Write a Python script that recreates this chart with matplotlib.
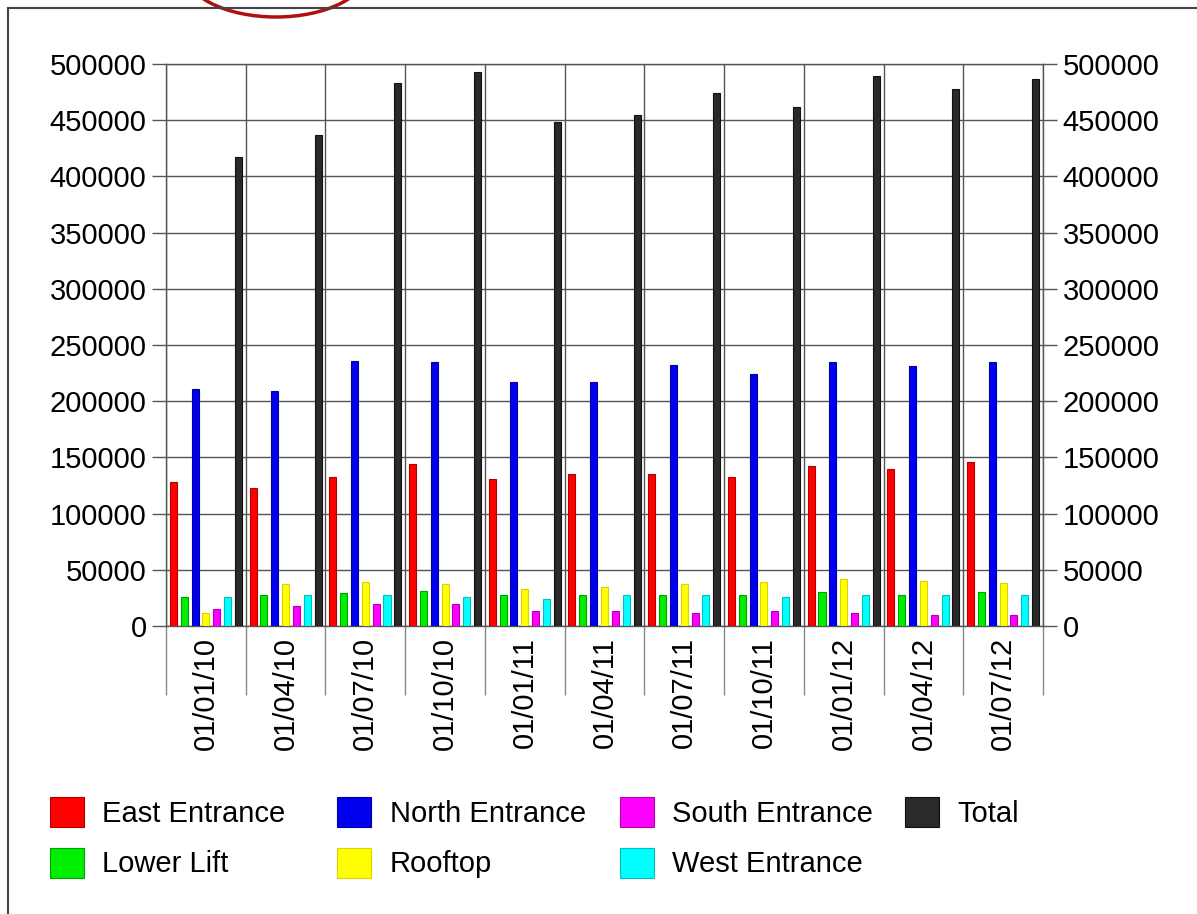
import matplotlib.pyplot as plt
from matplotlib.patches import Ellipse
from matplotlib.lines import Line2D
import numpy as np

plt.rcParams['font.family'] = ['Liberation Sans', 'DejaVu Sans']

dates = ['01/01/10', '01/04/10', '01/07/10', '01/10/10', '01/01/11', '01/04/11',
         '01/07/11', '01/10/11', '01/01/12', '01/04/12', '01/07/12']

east = [128000, 122500, 133000, 144000, 131000, 135000, 135000, 133000, 142000, 140000, 146000]
lower_lift = [26000, 28000, 29500, 31500, 28000, 28000, 28000, 28000, 30000, 28000, 30000]
north = [211000, 209500, 236000, 234500, 217000, 217000, 232000, 224000, 234500, 231000, 234500]
rooftop = [12000, 37000, 39000, 37000, 33000, 35000, 37000, 39000, 42000, 40000, 38500]
south = [15000, 18000, 19500, 19500, 13500, 13500, 12000, 13500, 12000, 10000, 10000]
west = [26000, 28000, 28000, 26000, 24000, 28000, 28000, 26000, 28000, 28000, 28000]
total = [417000, 437000, 483500, 492500, 448000, 455000, 474500, 462000, 489000, 478000, 487000]

series = [east, lower_lift, north, rooftop, south, west, total]
names = ['East Entrance', 'Lower Lift', 'North Entrance', 'Rooftop',
         'South Entrance', 'West Entrance', 'Total']
colors = ['#ff0000', '#00ee00', '#0000ee', '#ffff00', '#ff00ff', '#00ffff', '#2a2a2a']
edges = ['#b00000', '#00a000', '#0000a0', '#e0d000', '#b000b0', '#00c0c0', '#111111']

fig = plt.figure(figsize=(11.97, 9.14), dpi=100)
ax = fig.add_axes([166/1197, 1-626/914, (1043-166)/1197, (626-64)/914])

x = np.arange(len(dates))
for j, (vals, name, c, ec) in enumerate(zip(series, names, colors, edges)):
    ax.bar(x + (j - 3) * 0.136, vals, width=0.088, color=c, edgecolor=ec,
           linewidth=0.8, label=name, zorder=3)

ax.set_xlim(-0.5, len(dates) - 0.5)
ax.set_ylim(0, 500000)
ax.set_yticks(np.arange(0, 500001, 50000))
ax.tick_params(axis='y', labelsize=21, length=10, width=1, color='#555555',
               right=True, labelright=True, pad=4)

# category separators (major ticks) and date labels (minor ticks)
ax.set_xticks(np.arange(-0.5, len(dates), 1))
ax.set_xticklabels([])
ax.set_xticks(x, minor=True)
ax.set_xticklabels(dates, minor=True, rotation=90, fontsize=21)
ax.tick_params(axis='x', which='major', length=50, width=1, color='#888888')
ax.tick_params(axis='x', which='minor', length=0, pad=8)

ax.grid(True, which='major', color='#555555', linewidth=1, zorder=0)
ax.set_axisbelow(True)
for s in ax.spines.values():
    s.set_color('#555555')
    s.set_linewidth(1)

# legend: four fixed-width columns
col_x = [50, 337, 620, 905]
for k, cx in enumerate(col_x):
    idx = [i for i in (2 * k, 2 * k + 1) if i < len(names)]
    hs = [plt.Rectangle((0, 0), 1, 1, facecolor=colors[i], edgecolor=edges[i], linewidth=0.8)
          for i in idx]
    fig.legend(hs, [names[i] for i in idx], loc='upper left',
               bbox_to_anchor=(cx/1197, 1-797/914), frameon=False, fontsize=21,
               handlelength=1.15, handleheight=1.2, handletextpad=0.65,
               labelspacing=0.68, borderpad=0, borderaxespad=0)

# page border and annotation circle
fig.add_artist(Line2D([8/1197, 1], [1-8/914, 1-8/914], color='#444444', lw=1.5))
fig.add_artist(Line2D([8/1197, 8/1197], [0, 1-8/914], color='#444444', lw=1.5))
fig.add_artist(Ellipse((276/1197, 1+30/914), 184/1197, 94/914, transform=fig.transFigure,
                       fill=False, edgecolor='#b01010', lw=2.5))

fig.savefig('out.png', dpi=100)
